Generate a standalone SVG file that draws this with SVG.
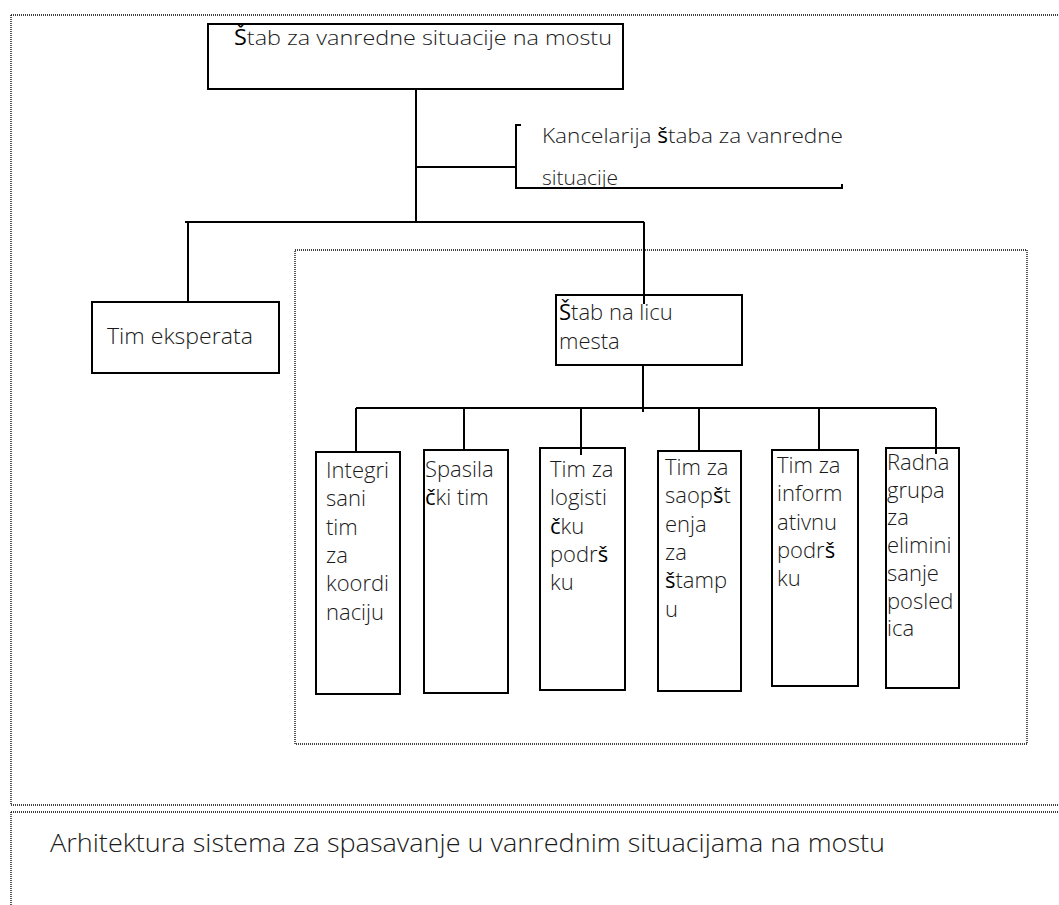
<svg xmlns="http://www.w3.org/2000/svg" width="1059" height="905" viewBox="0 0 1059 905">
<style>
.frame{fill:none;stroke:#000;stroke-width:1.3;stroke-dasharray:1 1}
.box{fill:#fff;stroke:#000;stroke-width:2}
.conn{fill:none;stroke:#000;stroke-width:2}
text{font-family:"Open Sans","Noto Sans","DejaVu Sans",sans-serif;font-weight:300;fill:#1a1a1a}
.t{font-size:22px}
.h{font-size:21px}
.cap{font-size:25px}
.b{font-weight:500;fill:#000}
</style>
<defs>
<clipPath id="kclip"><rect x="520" y="110" width="340" height="77.5"/></clipPath>
</defs>
<rect width="1059" height="905" fill="#fff"/>

<!-- frames -->
<g id="frames">
<path class="frame" d="M11 15H1059M11 15V805M11 805H1059"/>
<path class="frame" d="M11 812H1059M11 812V905"/>
<rect class="frame" x="295" y="250" width="732" height="494"/>
</g>

<!-- connectors -->
<g id="connectors">
<path class="conn" d="M416 89V222"/>
<path class="conn" d="M416 167H516"/>
<path class="conn" d="M521 125H516V188H842V184"/>
<path class="conn" d="M185 222H644"/>
<path class="conn" d="M188 222V302"/>
<path class="conn" d="M644 222V304"/>
<path class="conn" d="M643 363V412"/>
<path class="conn" d="M356 408H936"/>
<path class="conn" d="M356 408V452"/>
<path class="conn" d="M464 408V450"/>
<path class="conn" d="M581 408V455"/>
<path class="conn" d="M699 408V454"/>
<path class="conn" d="M819 408V452"/>
<path class="conn" d="M936 408V454"/>
</g>

<g id="n-stab">
<rect class="box" x="208" y="24" width="415" height="65"/>
<text class="h" x="234" y="45" textLength="378" lengthAdjust="spacingAndGlyphs"><tspan class="b">Š</tspan>tab za vanredne situacije na mostu</text>
</g>

<g id="n-kancelarija" clip-path="url(#kclip)">
<text class="h" x="542" y="143" textLength="301" lengthAdjust="spacingAndGlyphs">Kancelarija <tspan class="b">š</tspan>taba za vanredne</text>
<text class="h" x="542" y="185">situacije</text>
</g>

<g id="n-eksperata">
<rect class="box" x="92" y="302" width="187" height="71"/>
<text class="t" x="107" y="344" textLength="146" lengthAdjust="spacingAndGlyphs">Tim eksperata</text>
</g>

<g id="n-licu">
<rect class="box" x="556" y="295" width="186" height="70"/>
<text class="t" x="559" y="320"><tspan class="b">Š</tspan>tab na licu</text>
<text class="t" x="559" y="349">mesta</text>
</g>
<path class="conn" d="M644 295V304"/>

<g id="n-integrisani">
<rect class="box" x="316" y="452" width="84" height="242"/>
<text class="t" x="326" y="478">Integri</text>
<text class="t" x="326" y="506.3">sani</text>
<text class="t" x="326" y="534.6">tim</text>
<text class="t" x="326" y="562.9">za</text>
<text class="t" x="326" y="591.2">koordi</text>
<text class="t" x="326" y="619.5">naciju</text>
</g>

<g id="n-spasilacki">
<rect class="box" x="424" y="450" width="84" height="243"/>
<text class="t" x="425" y="477">Spasila</text>
<text class="t" x="425" y="505.3"><tspan class="b">č</tspan>ki tim</text>
</g>

<g id="n-logisticku">
<rect class="box" x="540" y="448" width="85" height="242"/>
<text class="t" x="550" y="477">Tim za</text>
<text class="t" x="550" y="505.3">logisti</text>
<text class="t" x="550" y="533.6"><tspan class="b">č</tspan>ku</text>
<text class="t" x="550" y="561.9">podr<tspan class="b">š</tspan></text>
<text class="t" x="550" y="590.2">ku</text>
</g>
<path class="conn" d="M581 448V455"/>

<g id="n-saopstenja">
<rect class="box" x="658" y="451" width="83" height="240"/>
<text class="t" x="665" y="475">Tim za</text>
<text class="t" x="665" y="503.3">saop<tspan class="b">š</tspan>t</text>
<text class="t" x="665" y="531.6">enja</text>
<text class="t" x="665" y="559.9">za</text>
<text class="t" x="665" y="588.2"><tspan class="b">š</tspan>tamp</text>
<text class="t" x="665" y="616.5">u</text>
</g>

<g id="n-informativnu">
<rect class="box" x="772" y="450" width="86" height="236"/>
<text class="t" x="777" y="473">Tim za</text>
<text class="t" x="777" y="501.3">inform</text>
<text class="t" x="777" y="529.6">ativnu</text>
<text class="t" x="777" y="557.9">podr<tspan class="b">š</tspan></text>
<text class="t" x="777" y="586.2">ku</text>
</g>

<g id="n-radna">
<rect class="box" x="886" y="448" width="73" height="240"/>
<text class="t" x="887" y="470">Radna</text>
<text class="t" x="887" y="497.7">grupa</text>
<text class="t" x="887" y="525.4">za</text>
<text class="t" x="887" y="553.1">elimini</text>
<text class="t" x="887" y="580.8">sanje</text>
<text class="t" x="887" y="608.5">posled</text>
<text class="t" x="887" y="636.2">ica</text>
</g>
<path class="conn" d="M936 448V454"/>

<g id="caption">
<text class="cap" x="50" y="852" textLength="835" lengthAdjust="spacingAndGlyphs">Arhitektura sistema za spasavanje u vanrednim situacijama na mostu</text>
</g>
</svg>
